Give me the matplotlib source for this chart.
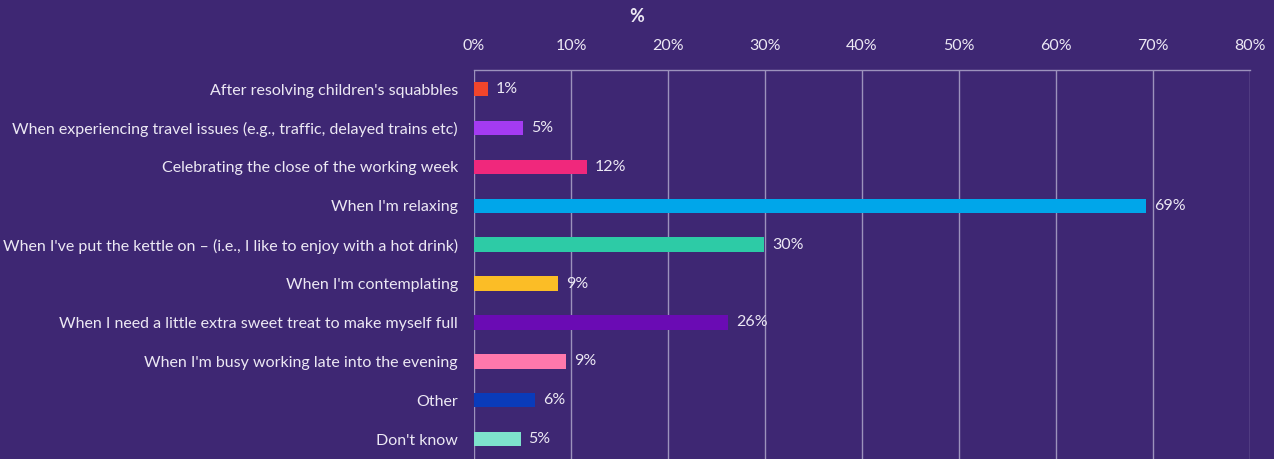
import matplotlib.pyplot as plt

categories = [
    "After resolving children's squabbles",
    "When experiencing travel issues (e.g., traffic, delayed trains etc)",
    "Celebrating the close of the working week",
    "When I'm relaxing",
    "When I've put the kettle on \u2013 (i.e., I like to enjoy with a hot drink)",
    "When I'm contemplating",
    "When I need a little extra sweet treat to make myself full",
    "When I'm busy working late into the evening",
    "Other",
    "Don't know",
]
values = [1.4, 5.1, 11.6, 69.3, 29.9, 8.7, 26.2, 9.5, 6.3, 4.8]
value_labels = ["1%", "5%", "12%", "69%", "30%", "9%", "26%", "9%", "6%", "5%"]
bar_colors = ["#F2452B", "#A43BF2", "#F0287C", "#00A6EA", "#2DCBA6",
              "#FBBD26", "#6A0BB4", "#FF78AC", "#0A3BBA", "#7EE2CC"]
ticks = [0, 10, 20, 30, 40, 50, 60, 70, 80]

bg = "#3E2773"
txt = "#ECE8F4"
grid = "#9C92BC"

plt.rcParams['font.family'] = ['Lato', 'DejaVu Sans']

fig = plt.figure(figsize=(12.74, 4.59), dpi=100, facecolor=bg)
ax = fig.add_axes([474 / 1274, 0.0, (1250 - 474) / 1274, 1 - 70 / 459])
ax.set_facecolor(bg)

y = list(range(len(categories)))
ax.barh(y, values, height=0.37, color=bar_colors, zorder=3)
for yi, v, lab in zip(y, values, value_labels):
    ax.text(v + 0.8, yi, lab, va="center", ha="left", color=txt, fontsize=11.5)

ax.set_xlim(0, 80)
ax.set_ylim(len(categories) - 0.49, -0.49)
ax.set_xticks(ticks)
ax.set_xticklabels([f"{t}%" for t in ticks])
ax.set_yticks(y)
ax.set_yticklabels(categories)
ax.xaxis.tick_top()
ax.tick_params(axis="x", length=0, pad=12, colors=txt, labelsize=11.5)
ax.tick_params(axis="y", length=0, pad=11.5, colors=txt, labelsize=11.5)
ax.grid(axis="x", color=grid, linewidth=1, zorder=0)
for side in ["left", "right", "bottom"]:
    ax.spines[side].set_visible(False)
ax.spines["top"].set_color(grid)
ax.spines["top"].set_linewidth(1)

fig.text(0.5, 1 - 16 / 459, "%", ha="center", va="center", color=txt,
         fontsize=13, fontweight="bold")

fig.savefig("out.png", dpi=100, facecolor=bg)
